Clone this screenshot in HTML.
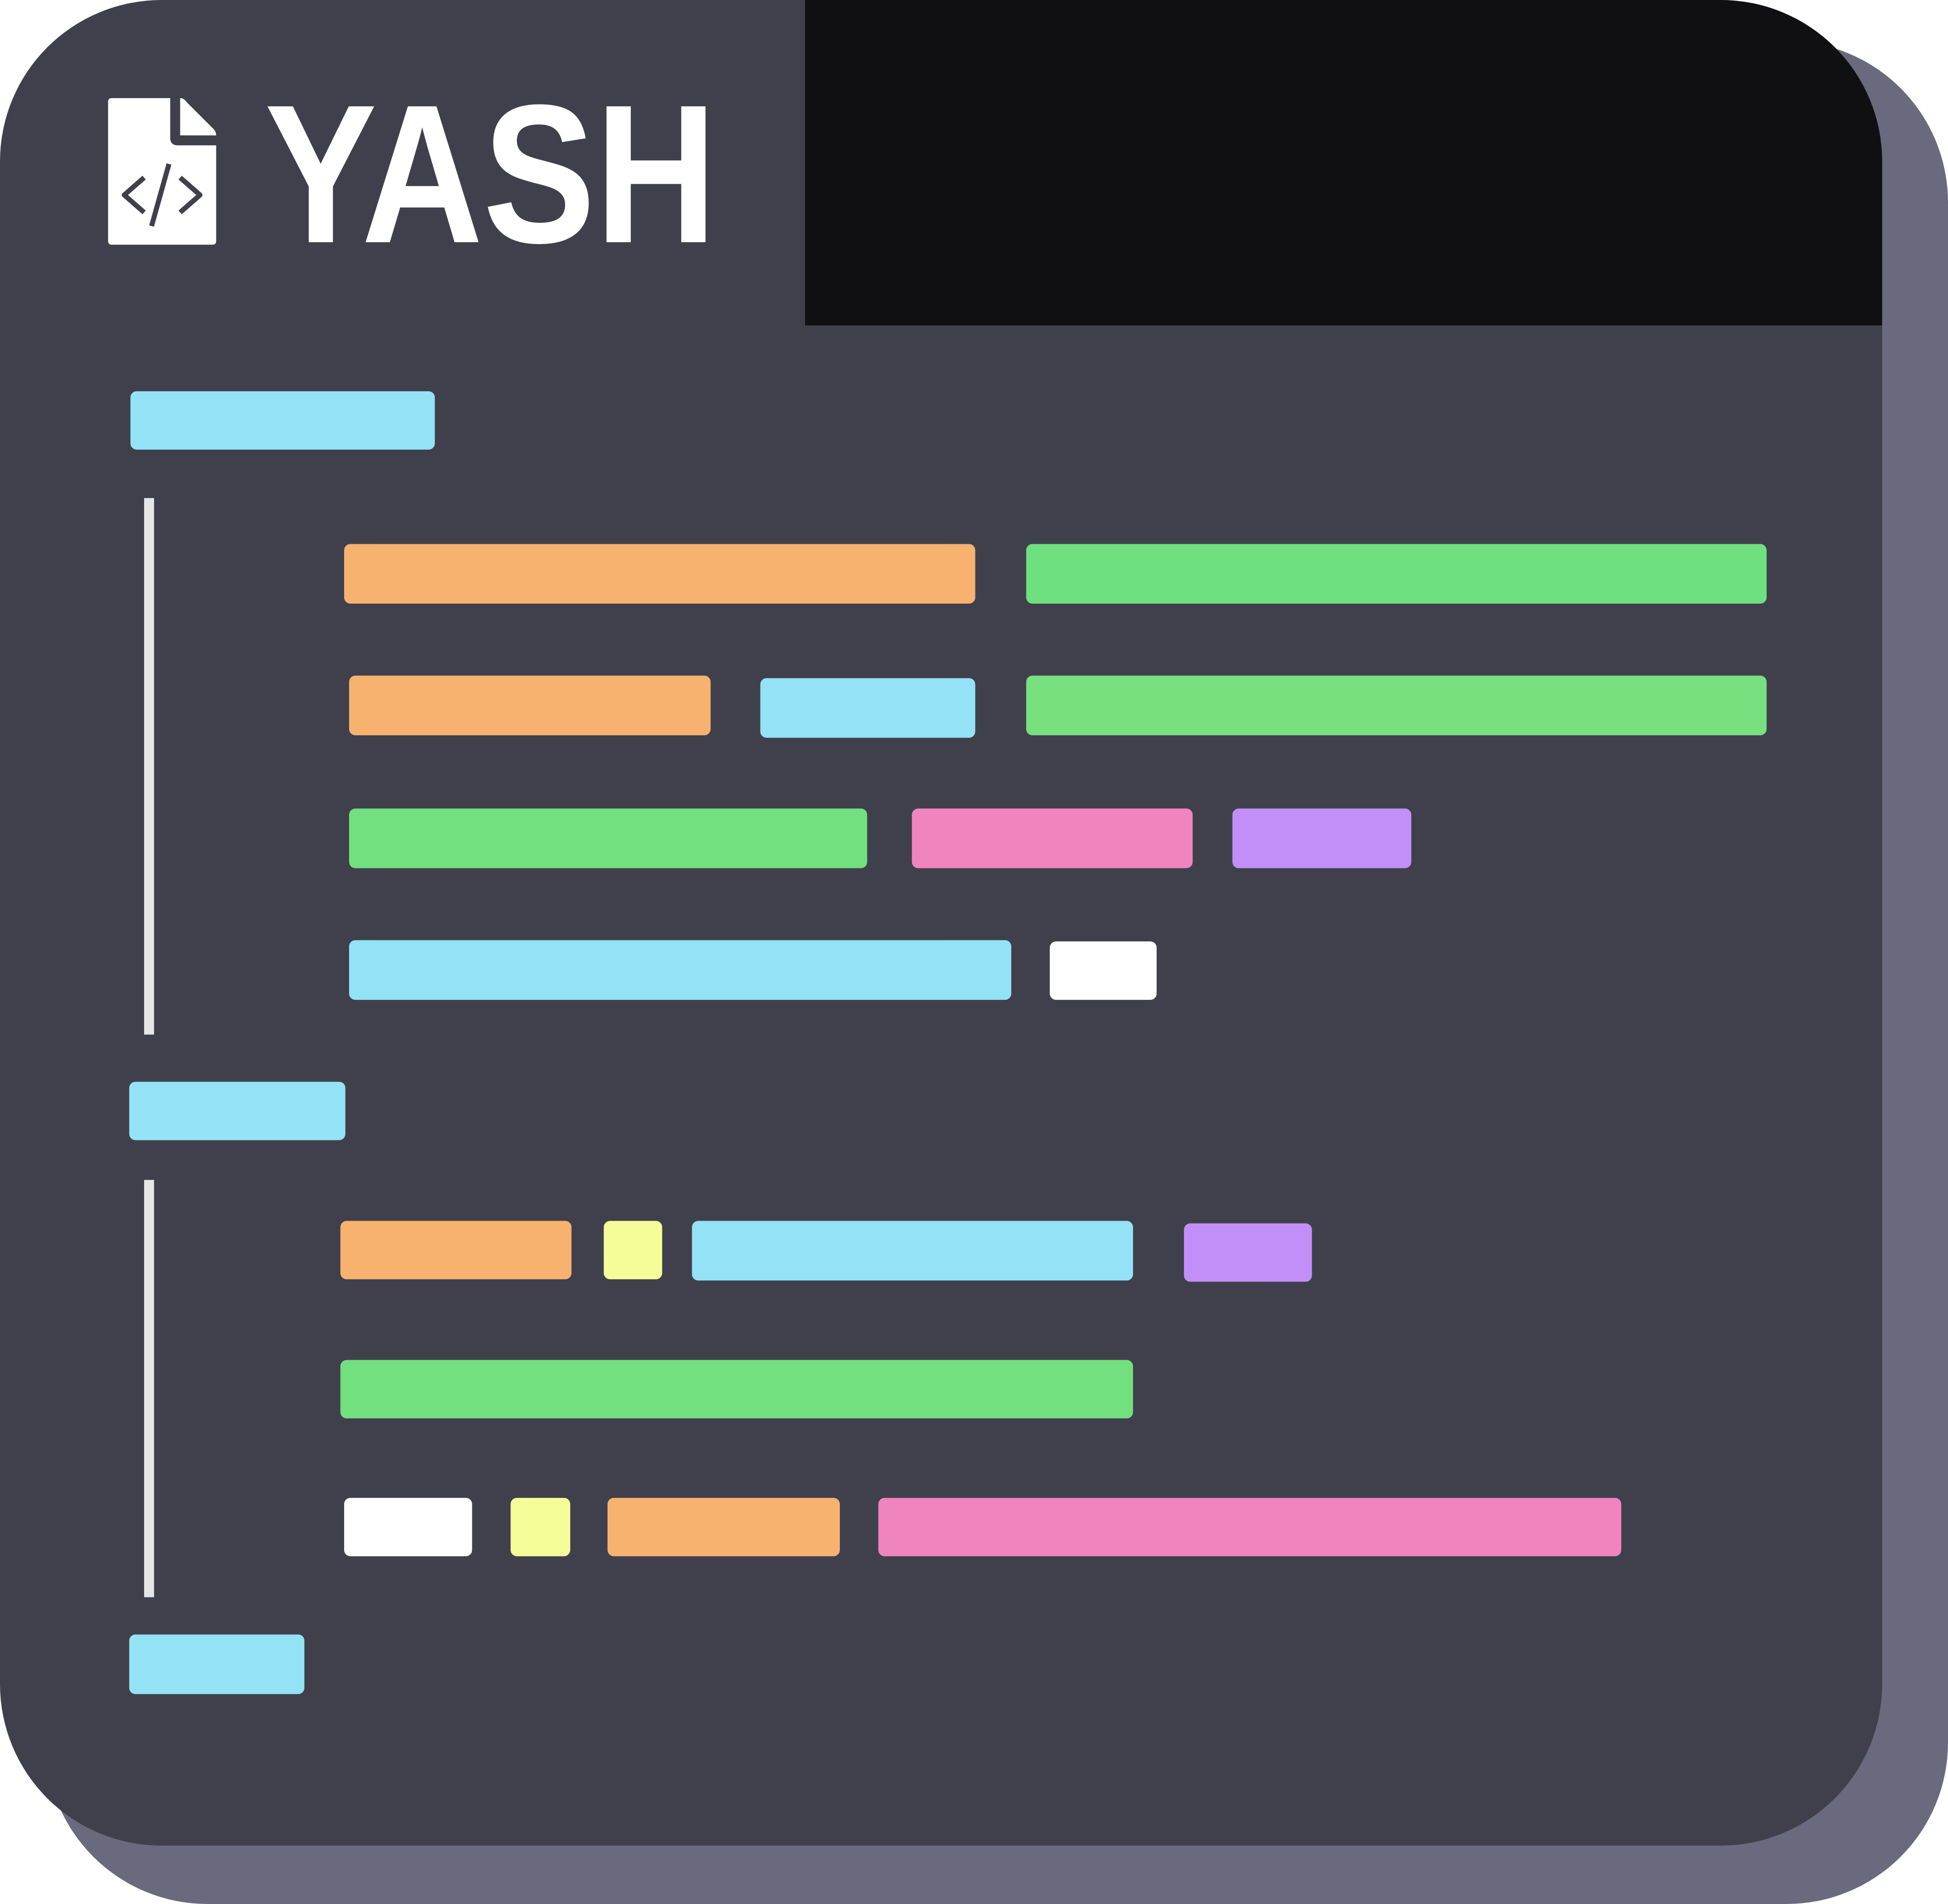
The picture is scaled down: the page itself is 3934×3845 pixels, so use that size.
<!DOCTYPE html>
<html><head><meta charset="utf-8"><style>
html,body{margin:0;padding:0;background:#fff;width:3934px;height:3845px;overflow:hidden}
svg{display:block}
</style></head><body>
<svg width="3934" height="3845" viewBox="0 0 1568 1533" preserveAspectRatio="none" xmlns="http://www.w3.org/2000/svg">
<rect x="37" y="33" width="1531" height="1500" rx="130" fill="#696a7d"/>
<rect x="0" y="0" width="1515" height="1486" rx="130" fill="#40404d"/>
<path d="M648 0 H1385 A130 130 0 0 1 1515 130 V262 H648 Z" fill="#101013"/>
<!-- icon -->
<path d="M90 79 H137 V111 Q137 117 143 117 H174 V194 Q174 197 171 197 H90 Q87 197 87 194 V82 Q87 79 90 79 Z" fill="#fff"/>
<path d="M145 79 Q148 79 150 82 L172 104 Q174 106 174 109 H145 Z" fill="#fff"/>
<g fill="none" stroke="#40404d" stroke-width="4" stroke-linejoin="round">
<path d="M116 143 L100 157 L116 171"/>
<path d="M145 143 L161 157 L145 171"/>
<path d="M136 132 L122 182"/>
</g>
<text x="213" y="195" font-family="Liberation Sans, sans-serif" font-weight="bold" font-size="159" fill="#fff" textLength="364" lengthAdjust="spacingAndGlyphs">YASH</text>
<!-- guide lines -->
<rect x="116" y="401" width="8" height="432" fill="#e6e6e6"/>
<rect x="116" y="950" width="8" height="336" fill="#e6e6e6"/>
<g>
<rect x="105" y="315" width="245" height="47" rx="5" fill="#94e2f5"/>
<rect x="277" y="438" width="508" height="48" rx="5" fill="#f7b26f"/>
<rect x="826" y="438" width="596" height="48" rx="5" fill="#6fe07f"/>
<rect x="281" y="544" width="291" height="48" rx="5" fill="#f7b26f"/>
<rect x="612" y="546" width="173" height="48" rx="5" fill="#94e2f5"/>
<rect x="826" y="544" width="596" height="48" rx="5" fill="#78e07f"/>
<rect x="281" y="651" width="417" height="48" rx="5" fill="#72e07f"/>
<rect x="734" y="651" width="226" height="48" rx="5" fill="#f084bf"/>
<rect x="992" y="651" width="144" height="48" rx="5" fill="#c18ff7"/>
<rect x="281" y="757" width="533" height="48" rx="5" fill="#94e2f5"/>
<rect x="845" y="758" width="86" height="47" rx="5" fill="#fff"/>
<rect x="104" y="871" width="174" height="47" rx="5" fill="#94e2f5"/>
<rect x="274" y="983" width="186" height="47" rx="5" fill="#f7b26f"/>
<rect x="486" y="983" width="47" height="47" rx="5" fill="#f4fd98"/>
<rect x="557" y="983" width="355" height="48" rx="5" fill="#94e2f5"/>
<rect x="953" y="985" width="103" height="47" rx="5" fill="#c18ff7"/>
<rect x="274" y="1095" width="638" height="47" rx="5" fill="#72e07f"/>
<rect x="277" y="1206" width="103" height="47" rx="5" fill="#fff"/>
<rect x="411" y="1206" width="48" height="47" rx="5" fill="#f4fd98"/>
<rect x="489" y="1206" width="187" height="47" rx="5" fill="#f7b26f"/>
<rect x="707" y="1206" width="598" height="47" rx="5" fill="#f084bf"/>
<rect x="104" y="1316" width="141" height="48" rx="5" fill="#94e2f5"/>
</g>
</svg>
</body></html>
